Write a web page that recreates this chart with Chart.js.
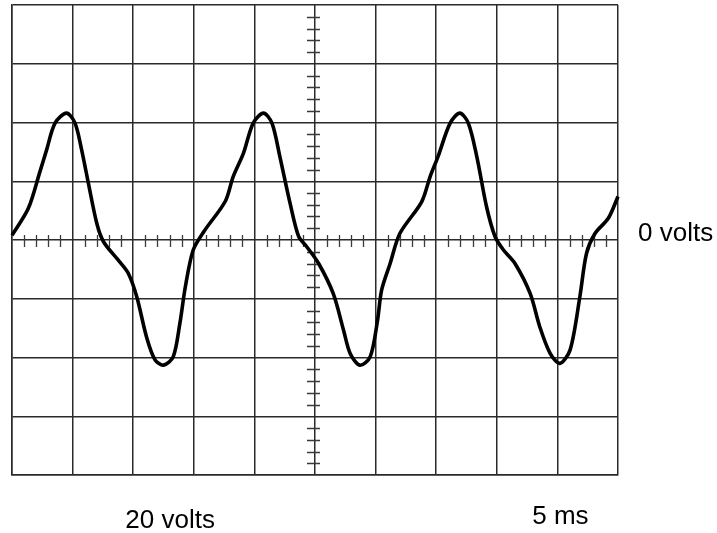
<!DOCTYPE html>
<html>
<head>
<meta charset="utf-8">
<script src="https://cdn.jsdelivr.net/npm/chart.js@4/dist/chart.umd.min.js"></script>
<style>
  html, body { margin: 0; padding: 0; background: #ffffff; }
  #wrap { width: 717px; height: 533px; position: relative; }
</style>
</head>
<body>
<div id="wrap"><canvas id="c" width="717" height="533"></canvas></div>
<script>
// Trace, in screen divisions (x: 0..10 time divisions, y: -4..4 volt divisions)
const traceX = [
  0.00, 0.27, 0.46, 0.57, 0.71, 0.90, 1.04, 1.15, 1.26, 1.40, 1.51, 1.75, 1.92, 2.06, 2.22, 2.36, 2.50, 2.66, 2.77, 2.86, 2.99, 3.17, 3.52, 3.65, 3.82, 3.98,
  4.15, 4.29, 4.42, 4.59, 4.73, 4.86, 5.06, 5.30, 5.47, 5.58, 5.74, 5.91, 6.03, 6.10, 6.24, 6.40, 6.76, 6.90, 7.03, 7.23,
  7.39, 7.53, 7.67, 7.83, 7.97, 8.11, 8.30, 8.55, 8.71, 8.88, 9.04, 9.21, 9.37, 9.48, 9.62, 9.84, 10.00
];
const traceY = [
  0.08, 0.54, 1.16, 1.53, 1.99, 2.16, 1.99, 1.53, 0.97, 0.28, -0.03, -0.34, -0.57, -0.97, -1.65, -2.04, -2.13, -1.99, -1.42, -0.80, -0.17, 0.15, 0.66, 1.08, 1.48, 1.99,
  2.16, 1.99, 1.42, 0.62, 0.06, -0.11, -0.40, -0.91, -1.53, -1.93, -2.13, -1.99, -1.38, -0.85, -0.40, 0.11, 0.65, 1.08, 1.42, 1.99,
  2.16, 1.99, 1.42, 0.57, 0.06, -0.17, -0.40, -0.91, -1.48, -1.93, -2.10, -1.87, -0.97, -0.23, 0.11, 0.37, 0.74
];
const xDivisions = [0, 10];
const yDivisions = [-4, 4];
const minorPerDivision = 5;
const sideLabel = '0 volts';
const voltsLabel = '20 volts';
const timeLabel = '5 ms';

const points = traceX.map((x, i) => ({ x: x, y: traceY[i] }));

const gridColor = '#2a2a2a';

const scopePlugin = {
  id: 'scope',
  beforeDatasetsDraw(chart) {
    const ctx = chart.ctx;
    const xs = chart.scales.x, ys = chart.scales.y;
    const cx = xs.getPixelForValue((xDivisions[0] + xDivisions[1]) / 2);
    const cy = ys.getPixelForValue(0);
    ctx.save();
    ctx.strokeStyle = '#3a3a3a';
    ctx.lineWidth = 1.3;
    ctx.beginPath();
    const nx = (xDivisions[1] - xDivisions[0]) * minorPerDivision;
    for (let i = 1; i < nx; i++) {
      if (i % minorPerDivision === 0) continue;
      const px = Math.round(xs.getPixelForValue(xDivisions[0] + i / minorPerDivision)) + 0.5;
      ctx.moveTo(px, cy - 5);
      ctx.lineTo(px, cy + 7);
    }
    const ny = (yDivisions[1] - yDivisions[0]) * minorPerDivision;
    for (let i = 1; i < ny; i++) {
      if (i % minorPerDivision === 0) continue;
      const py = Math.round(ys.getPixelForValue(yDivisions[0] + i / minorPerDivision)) + 0.5;
      ctx.moveTo(cx - 8, py);
      ctx.lineTo(cx + 5, py);
    }
    ctx.stroke();
    ctx.restore();
  },
  afterDraw(chart) {
    const ctx = chart.ctx;
    const xs = chart.scales.x, ys = chart.scales.y;
    const area = chart.chartArea;
    ctx.save();
    ctx.fillStyle = '#000';
    ctx.font = '26px "Liberation Sans", Arial, sans-serif';
    ctx.textBaseline = 'alphabetic';
    ctx.textAlign = 'left';
    ctx.fillText(sideLabel, area.right + 20, ys.getPixelForValue(0) + 1);
    ctx.textAlign = 'center';
    ctx.fillText(voltsLabel, xs.getPixelForValue(2.61), area.bottom + 53);
    ctx.fillText(timeLabel, xs.getPixelForValue(9.05), area.bottom + 49);
    ctx.restore();
  }
};

new Chart(document.getElementById('c'), {
  type: 'scatter',
  data: {
    datasets: [{
      data: points,
      showLine: true,
      borderColor: '#000',
      borderWidth: 3.6,
      pointRadius: 0,
      tension: 0.3,
      fill: false,
      clip: false
    }]
  },
  options: {
    responsive: false,
    animation: false,
    devicePixelRatio: 1,
    layout: { padding: { left: 12, right: 99, top: 5, bottom: 58 } },
    plugins: { legend: { display: false }, tooltip: { enabled: false } },
    scales: {
      x: {
        type: 'linear',
        min: xDivisions[0], max: xDivisions[1],
        ticks: { display: false, stepSize: 1 },
        grid: { color: gridColor, lineWidth: 1.5, drawTicks: false },
        border: { display: true, color: gridColor, width: 1.5 }
      },
      y: {
        type: 'linear',
        min: yDivisions[0], max: yDivisions[1],
        ticks: { display: false, stepSize: 1 },
        grid: { color: gridColor, lineWidth: 1.5, drawTicks: false },
        border: { display: true, color: gridColor, width: 1.5 }
      }
    }
  },
  plugins: [scopePlugin]
});
</script>
</body>
</html>
